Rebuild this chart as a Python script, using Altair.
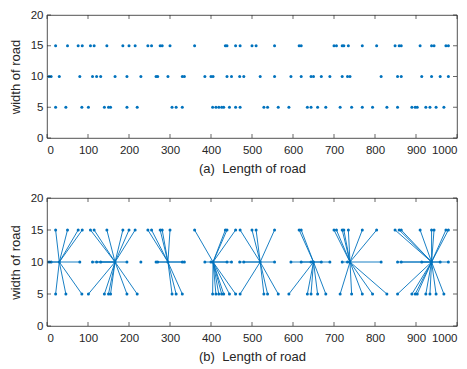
import altair as alt
import pandas as pd

# node x-positions (length of road) on each lane (width of road)
x_width5 = [21, 46, 85, 101, 140, 150, 155, 195, 220, 305, 315, 330, 404, 412, 419, 426, 431,
            445, 460, 471, 529, 538, 564, 590, 635, 644, 660, 680, 715, 743, 769, 794, 829,
            855, 890, 898, 903, 924, 934, 949, 968]
x_width10 = [5, 10, 30, 80, 111, 121, 131, 166, 195, 229, 266, 270, 295, 330, 335, 385, 400,
             405, 439, 450, 470, 480, 520, 555, 595, 620, 644, 650, 669, 690, 720, 733, 739,
             815, 855, 864, 914, 938, 959, 979]
x_width15 = [21, 50, 76, 86, 106, 115, 146, 185, 200, 215, 246, 255, 276, 281, 300, 360, 435,
             439, 460, 471, 500, 510, 555, 615, 620, 700, 706, 720, 724, 735, 769, 804, 849,
             859, 864, 910, 938, 944, 973, 979]
lane_y = [5, 10, 15]
# cluster heads (nodes on the width-10 lane)
heads = [30, 166, 295, 405, 520, 650, 739, 938]
# width-10 nodes that are not linked to any head
unlinked = [229]

x_ticks = [0, 100, 200, 300, 400, 500, 600, 700, 800, 900, 1000]
y_ticks = [0, 5, 10, 15, 20]

BLUE = "#0072BD"
AX = "#262626"
FONT = "Liberation Sans"
W = 410
H_TOP = 123
H_BOT = 128
TL = 4

rows = []
for yv, xs in zip(lane_y, [x_width5, x_width10, x_width15]):
    for xv in xs:
        rows.append({"x": xv, "y": yv})
pts = pd.DataFrame(rows)

links = []
for r in rows:
    if r["y"] == 10 and (r["x"] in heads or r["x"] in unlinked):
        continue
    h = min(heads, key=lambda c: abs(c - r["x"]))
    links.append({"x": r["x"], "y": r["y"], "hx": h, "hy": 10})
links = pd.DataFrame(links)

xt = pd.DataFrame({"x": x_ticks})
yt = pd.DataFrame({"y": y_ticks})


def X(title, field="x"):
    return alt.X(f"{field}:Q", scale=alt.Scale(domain=[0, 1000], nice=False, zero=False),
                 axis=alt.Axis(values=x_ticks, title=title, labelPadding=6, titlePadding=7,
                               format="d"))


def Y(field="y"):
    return alt.Y(f"{field}:Q", scale=alt.Scale(domain=[0, 20], nice=False, zero=False),
                 axis=alt.Axis(values=y_ticks, title="width of road", labelPadding=4,
                               titlePadding=8, format="d"))


def panel(title, h, with_links):
    layers = []
    if with_links:
        layers.append(alt.Chart(links).mark_rule(color=BLUE, strokeWidth=0.9).encode(
            x=X(title), x2="hx:Q", y=Y(), y2="hy:Q"))
    layers.append(alt.Chart(pts).mark_circle(color=BLUE, size=9, opacity=1).encode(
        x=X(title), y=Y()))
    tk = dict(color=AX, strokeWidth=0.7)
    layers.append(alt.Chart(xt).mark_rule(**tk).encode(
        x=X(title), y=alt.value(h), y2=alt.value(h - TL)))
    layers.append(alt.Chart(xt).mark_rule(**tk).encode(
        x=X(title), y=alt.value(0), y2=alt.value(TL)))
    layers.append(alt.Chart(yt).mark_rule(**tk).encode(
        y=Y(), x=alt.value(0), x2=alt.value(TL)))
    layers.append(alt.Chart(yt).mark_rule(**tk).encode(
        y=Y(), x=alt.value(W), x2=alt.value(W - TL)))
    return alt.layer(*layers).properties(width=W, height=h)


top = panel("(a)\u00a0 Length of road", H_TOP, False)
bot = panel("(b)\u00a0 Length of road", H_BOT, True)

chart = alt.vconcat(top, bot, spacing=15).properties(
    padding=0, background="white"
).configure_view(
    stroke=AX, strokeWidth=0.8
).configure_axis(
    domain=False, ticks=False, grid=False,
    labelFont=FONT, labelFontSize=11.5, labelColor=AX,
    titleFont=FONT, titleFontSize=13, titleFontWeight="normal", titleColor=AX,
)

chart.save("out.html", embed_options={"renderer": "svg", "actions": False})
